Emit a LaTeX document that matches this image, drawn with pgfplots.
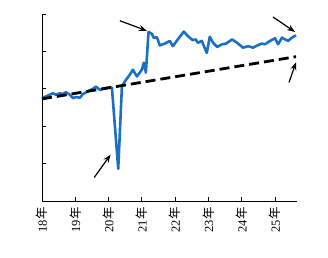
\documentclass[border=0pt]{standalone}
\usepackage{pgfplots}
\pgfplotsset{compat=1.18}
\usepackage{fontspec}
\setmainfont{Liberation Serif}
\newfontfamily\cjk{Noto Sans CJK SC}
\usetikzlibrary{arrows.meta}
\definecolor{lineblue}{RGB}{28,112,196}
\begin{document}
\begin{tikzpicture}
\path[use as bounding box] (-42bp,-57bp) rectangle (286bp,201bp);
\begin{axis}[
  at={(0,0)}, anchor=south west,
  scale only axis, width=255bp, height=187bp,
  xmin=18, xmax=25.66, ymin=0, ymax=5,
  axis x line=bottom, axis y line=left,
  axis line style={-, line width=0.8pt},
  tick align=inside, tick style={black, line width=0.8pt},
  major tick length=4bp,
  xtick={18,...,25},
  xticklabels={18{\cjk 年},19{\cjk 年},20{\cjk 年},21{\cjk 年},22{\cjk 年},23{\cjk 年},24{\cjk 年},25{\cjk 年}},
  xticklabel style={rotate=90, anchor=east, font=\fontsize{12.5}{13}\selectfont, xshift=-3bp},
  ytick={0,1,2,3,4,5}, yticklabels={},
  clip=false,
]
\addplot[lineblue, line width=2.6bp, line join=round] coordinates {
(18.00,2.75)(18.18,2.82)(18.33,2.88)(18.42,2.84)(18.54,2.88)(18.63,2.86)(18.72,2.91)(18.84,2.84)
(18.93,2.75)(19.02,2.78)(19.14,2.76)(19.23,2.86)(19.38,2.93)(19.53,3.00)(19.62,3.06)(19.74,2.97)
(19.83,3.00)(19.98,3.03)(20.10,3.03)(20.29,0.86)(20.40,3.06)(20.49,3.20)(20.64,3.38)(20.73,3.51)
(20.85,3.33)(21.00,3.51)(21.06,3.70)(21.12,3.43)(21.20,4.52)(21.30,4.47)(21.36,4.36)(21.45,4.38)
(21.54,4.16)(21.69,4.21)(21.84,4.28)(21.93,4.14)(22.08,4.32)(22.26,4.53)(22.38,4.41)(22.53,4.30)
(22.62,4.32)(22.68,4.23)(22.80,4.28)(22.95,3.96)(23.04,4.39)(23.14,4.23)(23.26,4.12)(23.41,4.19)
(23.53,4.21)(23.71,4.32)(23.86,4.23)(24.04,4.10)(24.19,4.14)(24.34,4.10)(24.49,4.17)(24.61,4.21)
(24.70,4.19)(24.85,4.28)(25.00,4.35)(25.09,4.19)(25.21,4.37)(25.30,4.32)(25.39,4.28)(25.51,4.37)
(25.63,4.43)
};
\addplot[black, line width=2.8bp, dash pattern=on 10bp off 5bp] coordinates {(18.00,2.73)(25.63,3.86)};
\draw[-{Stealth[length=8bp,width=6bp]}, line width=1.2bp] (axis cs:20.34,4.82) -- (axis cs:21.15,4.55);
\draw[-{Stealth[length=8bp,width=6bp]}, line width=1.2bp] (axis cs:19.57,0.63) -- (axis cs:20.06,1.24);
\draw[-{Stealth[length=8bp,width=6bp]}, line width=1.2bp] (axis cs:24.94,4.92) -- (axis cs:25.60,4.52);
\draw[-{Stealth[length=8bp,width=6bp]}, line width=1.2bp] (axis cs:25.42,3.17) -- (axis cs:25.63,3.71);
\end{axis}
\end{tikzpicture}
\end{document}
